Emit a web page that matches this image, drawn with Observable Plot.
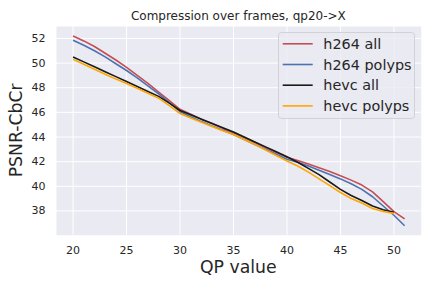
<!DOCTYPE html>
<html><head><meta charset="utf-8">
<script src="https://cdn.jsdelivr.net/npm/d3@7"></script>
<script src="https://cdn.jsdelivr.net/npm/@observablehq/plot@0.6"></script>
<style>
body{margin:0;background:#fff;}
#chart{position:relative;width:432px;height:288px;}
</style>
</head><body><div id="chart"></div>
<script>
const chartTitle = "Compression over frames, qp20->X";
const xLabel = "QP value";
const yLabel = "PSNR-CbCr";
const seriesNames = ["h264 all", "h264 polyps", "hevc all", "hevc polyps"];
const seriesColors = ["#C44E52", "#4C72B0", "#1a1a1a", "#FFA500"];
const xTicks = [20, 25, 30, 35, 40, 45, 50];
const yTicks = [38, 40, 42, 44, 46, 48, 50, 52];

const qpH264 = [20,21,22,23,24,25,26,27,28,29,30,31,32,33,34,35,36,37,38,39,40,41,42,43,44,45,46,47,48,49,50,51];
const qpHevc = [20,21,22,23,24,25,26,27,28,29,30,31,32,33,34,35,36,37,38,39,40,41,42,43,44,45,46,47,48,49,50];

const h264All = [52.2,51.8,51.35,50.8,50.25,49.65,49.0,48.35,47.65,46.95,46.25,45.85,45.45,45.1,44.7,44.35,43.95,43.55,43.15,42.75,42.35,42.1,41.8,41.5,41.2,40.85,40.5,40.1,39.55,38.75,37.95,37.35];
const h264Polyps = [51.85,51.45,51.0,50.5,49.95,49.4,48.8,48.15,47.5,46.8,46.05,45.65,45.25,44.9,44.55,44.2,43.8,43.4,43.0,42.6,42.2,41.95,41.65,41.3,40.95,40.6,40.2,39.75,39.15,38.4,37.65,36.8];
const hevcAll = [50.5,50.1,49.7,49.3,48.9,48.5,48.1,47.7,47.3,46.75,46.15,45.8,45.45,45.1,44.75,44.4,44.0,43.6,43.2,42.8,42.4,41.95,41.45,40.95,40.35,39.75,39.25,38.85,38.4,38.1,37.9];
const hevcPolyps = [50.3,49.9,49.5,49.1,48.7,48.35,47.95,47.55,47.15,46.55,45.9,45.55,45.2,44.85,44.5,44.2,43.8,43.4,42.95,42.5,42.05,41.65,41.15,40.6,40.05,39.5,39.0,38.65,38.2,37.95,37.8];

const seriesData = [
  {name: seriesNames[0], qp: qpH264, v: h264All},
  {name: seriesNames[1], qp: qpH264, v: h264Polyps},
  {name: seriesNames[2], qp: qpHevc, v: hevcAll},
  {name: seriesNames[3], qp: qpHevc, v: hevcPolyps}
];

const font = "DejaVu Sans";
const textColor = "#262626";

const lineMarks = seriesData.map((s, i) =>
  Plot.line(s.qp.map((q, j) => ({qp: q, psnr: s.v[j]})), {
    x: "qp", y: "psnr", stroke: seriesColors[i], strokeWidth: 1.6,
    strokeLinejoin: "round", strokeLinecap: "butt"
  })
);

const allVals = [...h264All, ...h264Polyps, ...hevcAll, ...hevcPolyps];
const yMin = d3.min(allVals), yMax = d3.max(allVals);
const yPad = (yMax - yMin) * 0.05;
const xMin = 20, xMax = 51, xPad = (xMax - xMin) * 0.05;

const plot = Plot.plot({
  width: 432,
  height: 288,
  marginLeft: 56,
  marginRight: 11.3,
  marginTop: 26,
  marginBottom: 53.3,
  style: {fontFamily: font, color: textColor, background: "#ffffff", overflow: "visible"},
  x: {domain: [xMin - xPad, xMax + xPad], ticks: xTicks, label: null},
  y: {domain: [yMin - yPad, yMax + yPad], ticks: yTicks, label: null},
  marks: [
    Plot.frame({fill: "#EAEAF2", stroke: null}),
    Plot.gridX(xTicks, {stroke: "#ffffff", strokeOpacity: 1, strokeWidth: 1}),
    Plot.gridY(yTicks, {stroke: "#ffffff", strokeOpacity: 1, strokeWidth: 1}),
    Plot.axisX(xTicks, {tickSize: 0, tickPadding: 11, fontSize: 11, label: null, fill: textColor}),
    Plot.axisY(yTicks, {tickSize: 0, tickPadding: 11, fontSize: 11, label: null, fill: textColor}),
    ...lineMarks
  ]
});

document.getElementById("chart").appendChild(plot);

const svg = d3.select(plot);
// title
svg.append("text").attr("x", 238.35).attr("y", 20).attr("text-anchor", "middle")
  .attr("font-family", font).attr("font-size", 12).attr("fill", textColor).text(chartTitle);
// x label
svg.append("text").attr("x", 238.35).attr("y", 273).attr("text-anchor", "middle")
  .attr("font-family", font).attr("font-size", 17.28).attr("fill", textColor).text(xLabel);
// y label
svg.append("text").attr("transform", "translate(21.5,130.35) rotate(-90)").attr("text-anchor", "middle")
  .attr("font-family", font).attr("font-size", 17.28).attr("fill", textColor).text(yLabel);

// legend
const lg = svg.append("g");
lg.append("rect").attr("x", 278.5).attr("y", 32.5).attr("width", 136).attr("height", 86).attr("rx", 3)
  .attr("fill", "#EAEAF2").attr("fill-opacity", 0.8).attr("stroke", "#cccccc").attr("stroke-opacity", 0.8);
seriesNames.forEach((n, i) => {
  const yy = 43.8 + i * 20.7;
  lg.append("line").attr("x1", 282.7).attr("x2", 312.7).attr("y1", yy).attr("y2", yy)
    .attr("stroke", seriesColors[i]).attr("stroke-width", 1.6);
  lg.append("text").attr("x", 323.3).attr("y", yy).attr("dy", "0.35em").attr("text-anchor", "start")
    .attr("font-family", font).attr("font-size", 14.4).attr("fill", textColor).text(n);
});
</script>
</body></html>
